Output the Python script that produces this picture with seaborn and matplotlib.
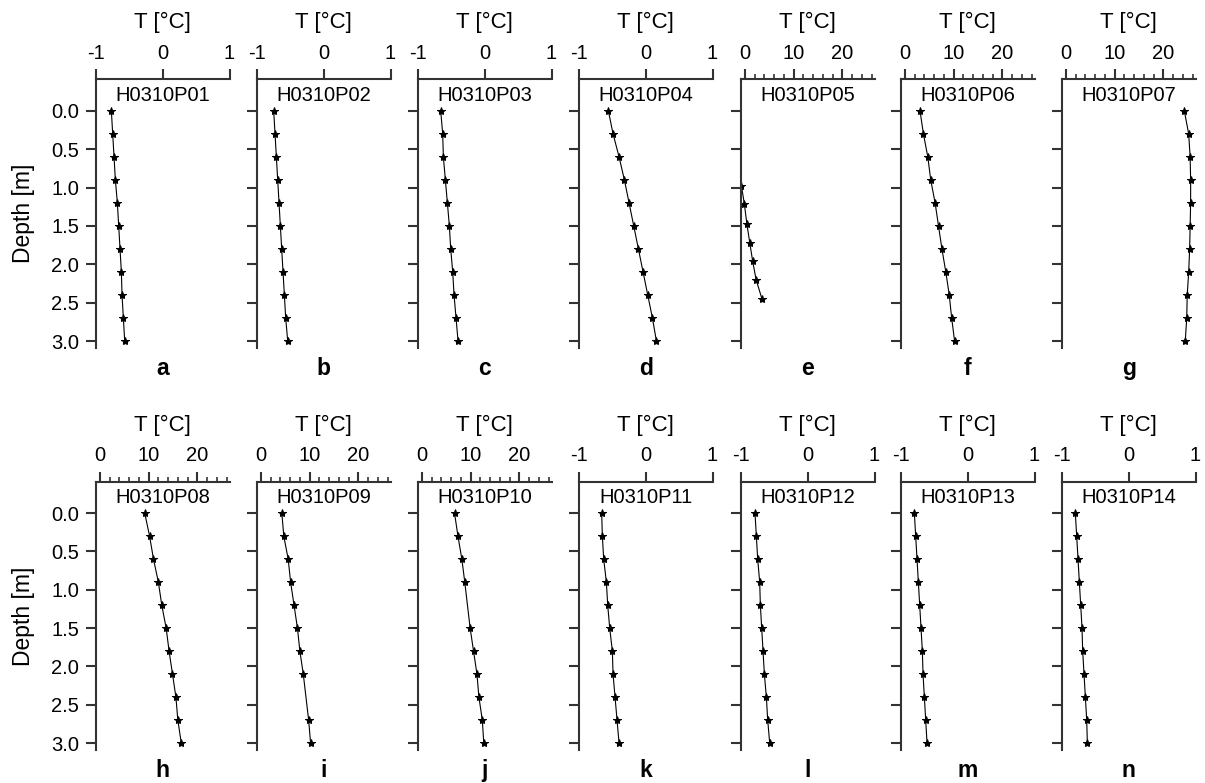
import numpy as np
import pandas as pd
import seaborn as sns
import matplotlib.pyplot as plt
from matplotlib.ticker import MultipleLocator, FormatStrFormatter

sns.set_style("ticks")
plt.rcParams['font.family'] = ['Liberation Sans', 'DejaVu Sans']
plt.rcParams['axes.unicode_minus'] = False
plt.rcParams['text.color'] = 'black'
plt.rcParams['axes.labelcolor'] = 'black'

# depth of the loggers [m]
depth = [0.0, 0.3, 0.6, 0.9, 1.2, 1.5, 1.8, 2.1, 2.4, 2.7, 3.0]
depth_e = [0.98, 1.22, 1.47, 1.72, 1.96, 2.20, 2.45]
depth_i = [0.0, 0.3, 0.6, 0.9, 1.2, 1.5, 1.8, 2.1, 2.7, 3.0]
depth_j = [0.0, 0.3, 0.6, 0.9, 1.5, 1.8, 2.1, 2.4, 2.7, 3.0]

# temperature profiles [deg C]
t_p01 = [-0.77, -0.75, -0.73, -0.71, -0.68, -0.66, -0.64, -0.62, -0.61, -0.59, -0.57]
t_p02 = [-0.75, -0.73, -0.71, -0.69, -0.67, -0.65, -0.63, -0.61, -0.59, -0.57, -0.54]
t_p03 = [-0.66, -0.63, -0.62, -0.59, -0.56, -0.53, -0.51, -0.48, -0.46, -0.43, -0.40]
t_p04 = [-0.56, -0.49, -0.40, -0.32, -0.25, -0.18, -0.11, -0.04, 0.03, 0.10, 0.16]
t_p05 = [-0.7, -0.1, 0.4, 1.0, 1.6, 2.3, 3.5]
t_p06 = [3.1, 3.8, 4.7, 5.3, 6.2, 6.9, 7.6, 8.4, 9.1, 9.6, 10.2]
t_p07 = [24.3, 25.2, 25.5, 25.6, 25.6, 25.5, 25.4, 25.2, 24.9, 24.8, 24.5]
t_p08 = [9.2, 10.2, 11.0, 12.0, 12.7, 13.6, 14.2, 14.9, 15.6, 16.0, 16.7]
t_p09 = [4.3, 4.7, 5.6, 6.1, 6.8, 7.5, 8.0, 8.7, 9.8, 10.2]
t_p10 = [6.7, 7.4, 8.2, 8.8, 9.9, 10.6, 11.3, 11.7, 12.4, 12.7]
t_p11 = [-0.66, -0.65, -0.63, -0.59, -0.57, -0.54, -0.50, -0.49, -0.46, -0.43, -0.40]
t_p12 = [-0.79, -0.77, -0.75, -0.72, -0.71, -0.69, -0.67, -0.65, -0.62, -0.60, -0.57]
t_p13 = [-0.80, -0.78, -0.76, -0.74, -0.72, -0.70, -0.68, -0.67, -0.65, -0.63, -0.61]
t_p14 = [-0.80, -0.78, -0.76, -0.74, -0.72, -0.70, -0.69, -0.67, -0.65, -0.63, -0.62]

names = ["H0310P01", "H0310P02", "H0310P03", "H0310P04", "H0310P05", "H0310P06", "H0310P07",
         "H0310P08", "H0310P09", "H0310P10", "H0310P11", "H0310P12", "H0310P13", "H0310P14"]
letters = list("abcdefghijklmn")
temps = [t_p01, t_p02, t_p03, t_p04, t_p05, t_p06, t_p07,
         t_p08, t_p09, t_p10, t_p11, t_p12, t_p13, t_p14]
depths = [depth, depth, depth, depth, depth_e, depth, depth,
          depth, depth_i, depth_j, depth, depth, depth, depth]
warm = [False, False, False, False, True, True, True,
        True, True, True, False, False, False, False]

W, H = 1205, 783
fig = plt.figure(figsize=(W / 100, H / 100), dpi=100)

lefts = [96, 257, 418, 579, 741, 901, 1062]
row_top = [79.3, 481.7]
row_bot = [348, 750]
width = 133.5
spine_col = '#333333'

for k in range(14):
    r, c = divmod(k, 7)
    ax = fig.add_axes([lefts[c] / W, 1 - row_bot[r] / H, width / W,
                       (row_bot[r] - row_top[r]) / H])
    df = pd.DataFrame({"T": temps[k], "z": depths[k]})
    sns.lineplot(data=df, x="T", y="z", sort=False, estimator=None, ax=ax,
                 color='black', lw=0.8, marker='*', markersize=6,
                 markeredgecolor='black', markerfacecolor='black')
    ax.set_ylim(3.09, -0.41)
    if warm[k]:
        ax.set_xlim(-0.8, 26.6)
        ax.xaxis.set_major_locator(MultipleLocator(10))
        ax.xaxis.set_minor_locator(MultipleLocator(2))
    else:
        ax.set_xlim(-1, 1)
        ax.set_xticks([-1, 0, 1])
    ax.xaxis.tick_top()
    ax.xaxis.set_label_position('top')
    ax.set_xlabel("T [°C]", fontsize=16, labelpad=11)
    ax.yaxis.set_major_locator(MultipleLocator(0.5))
    ax.yaxis.set_major_formatter(FormatStrFormatter('%.1f'))
    for s in ['right', 'bottom']:
        ax.spines[s].set_visible(False)
    for s in ['left', 'top']:
        ax.spines[s].set_color(spine_col)
        ax.spines[s].set_linewidth(1.5)
    ax.tick_params(axis='both', which='major', length=7, width=1.5,
                   color=spine_col, labelcolor='black', labelsize=14.5, pad=5)
    ax.tick_params(axis='x', which='minor', length=3.5, width=1.2, color=spine_col)
    if c == 0:
        ax.set_ylabel("Depth [m]", fontsize=16.5, labelpad=12)
    else:
        ax.set_ylabel("")
        ax.tick_params(axis='y', labelleft=False)
    ax.annotate(names[k], xy=(0.5, 1), xycoords='axes fraction', xytext=(0, -4.5),
                textcoords='offset points', ha='center', va='top', fontsize=14.5)
    ax.annotate(letters[k], xy=(0.5, 0), xycoords='axes fraction', xytext=(0, -6.5),
                textcoords='offset points', ha='center', va='top', fontsize=16.5,
                fontweight='bold')

fig.savefig("out.png", dpi=100)
